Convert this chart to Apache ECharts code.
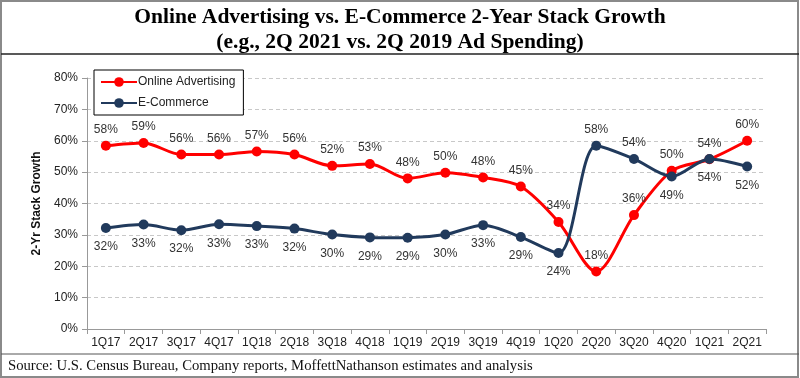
<!DOCTYPE html>
<html>
<head>
<meta charset="utf-8">
<script src="https://cdn.jsdelivr.net/npm/echarts@6/dist/echarts.min.js"></script>
<style>html,body{margin:0;padding:0;background:#fff}#c{width:800px;height:378px}</style>
</head>
<body>
<div id="c"></div>
<script>
const categories = ['1Q17','2Q17','3Q17','4Q17','1Q18','2Q18','3Q18','4Q18','1Q19','2Q19','3Q19','4Q19','1Q20','2Q20','3Q20','4Q20','1Q21','2Q21'];
const onlineAdvertising = [58.4,59.3,55.6,55.6,56.6,55.6,52.0,52.6,48.0,49.8,48.3,45.4,34.1,18.3,36.3,50.4,54.1,60.0];
const eCommerce = [32.2,33.3,31.5,33.4,32.8,32.0,30.1,29.2,29.1,30.1,33.1,29.3,24.2,58.4,54.2,48.6,54.2,51.8];
const yTicks = [0,10,20,30,40,50,60,70,80];
const titleLines = ['Online Advertising vs. E-Commerce 2-Year Stack Growth', '(e.g., 2Q 2021 vs. 2Q 2019 Ad Spending)'];
const sourceText = 'Source: U.S. Census Bureau, Company reports, MoffettNathanson estimates and analysis';

const RED = '#ff0000';
const NAVY = '#213a5c';
const labelStyle = {show:true, fontFamily:'Liberation Sans, Arial', fontSize:12, color:'#333', formatter: p => Math.round(p.value) + '%'};

const redData = onlineAdvertising.map(v => ({value:v, label:{position:'top', distance:5}}));
const blueData = eCommerce.map((v,i) => ({value:v, label:{position: (v - onlineAdvertising[i] > 1) ? 'top' : 'bottom', distance:(v - onlineAdvertising[i] > 1) ? 5 : 8}}));

const chart = echarts.init(document.getElementById('c'), null, {renderer:'canvas'});
chart.setOption({
  animation:false,
  backgroundColor:'#fff',
  legend:{
    orient:'vertical', left:94, top:70,
    backgroundColor:'#fff', borderColor:'#000', borderWidth:1,
    padding:[6,8,6,6], itemWidth:36, itemHeight:12, itemGap:9,
    textStyle:{fontFamily:'Liberation Sans, Arial', fontSize:12, color:'#222', padding:[0,0,0,-4]},
    data:['Online Advertising','E-Commerce']
  },
  grid:{left:87, right:34, top:78, bottom:49},
  xAxis:{
    type:'category', data:categories, boundaryGap:true,
    axisLine:{lineStyle:{color:'#999'}},
    axisTick:{show:true, length:5, lineStyle:{color:'#999'}},
    axisLabel:{interval:0, fontFamily:'Liberation Sans, Arial', fontSize:12, color:'#222', margin:8}
  },
  yAxis:{
    type:'value', min:yTicks[0], max:yTicks[yTicks.length-1], interval:10,
    name:'2-Yr Stack Growth', nameLocation:'middle', nameRotate:90, nameGap:39,
    nameTextStyle:{fontFamily:'Liberation Sans, Arial', fontWeight:'bold', fontSize:12, color:'#111'},
    axisLine:{show:true, lineStyle:{color:'#999'}},
    axisTick:{show:true, length:5, lineStyle:{color:'#999'}},
    axisLabel:{fontFamily:'Liberation Sans, Arial', fontSize:12, color:'#222', margin:9, formatter:'{value}%'},
    splitLine:{show:true, lineStyle:{type:[4,3], color:'#c8c8c8'}}
  },
  series:[
    {name:'Online Advertising', type:'line', data:redData, smooth:0.3,
     symbol:'circle', symbolSize:10, lineStyle:{color:RED, width:3}, itemStyle:{color:RED},
     label:labelStyle, z:2},
    {name:'E-Commerce', type:'line', data:blueData, smooth:0.3,
     symbol:'circle', symbolSize:10, lineStyle:{color:NAVY, width:3}, itemStyle:{color:NAVY},
     label:labelStyle, z:3}
  ],
  graphic:[
    {type:'rect', shape:{x:1, y:1, width:797, height:376}, style:{fill:null, stroke:'#8a8a8a', lineWidth:2}, silent:true},
    {type:'line', shape:{x1:1, y1:54, x2:799, y2:54}, style:{stroke:'#222', lineWidth:1.5}, silent:true},
    {type:'line', shape:{x1:1, y1:354, x2:799, y2:354}, style:{stroke:'#555', lineWidth:1}, silent:true},
    {type:'text', x:400, y:17, silent:true,
     style:{text:titleLines[0], font:'bold 21.5px "Liberation Serif", serif', fill:'#000', align:'center', verticalAlign:'middle'}},
    {type:'text', x:400, y:42, silent:true,
     style:{text:titleLines[1], font:'bold 21.5px "Liberation Serif", serif', fill:'#000', align:'center', verticalAlign:'middle'}},
    {type:'text', x:8, y:366, silent:true,
     style:{text:sourceText, font:'14.7px "Liberation Serif", serif', fill:'#111', align:'left', verticalAlign:'middle'}}
  ]
});
</script>
</body>
</html>
